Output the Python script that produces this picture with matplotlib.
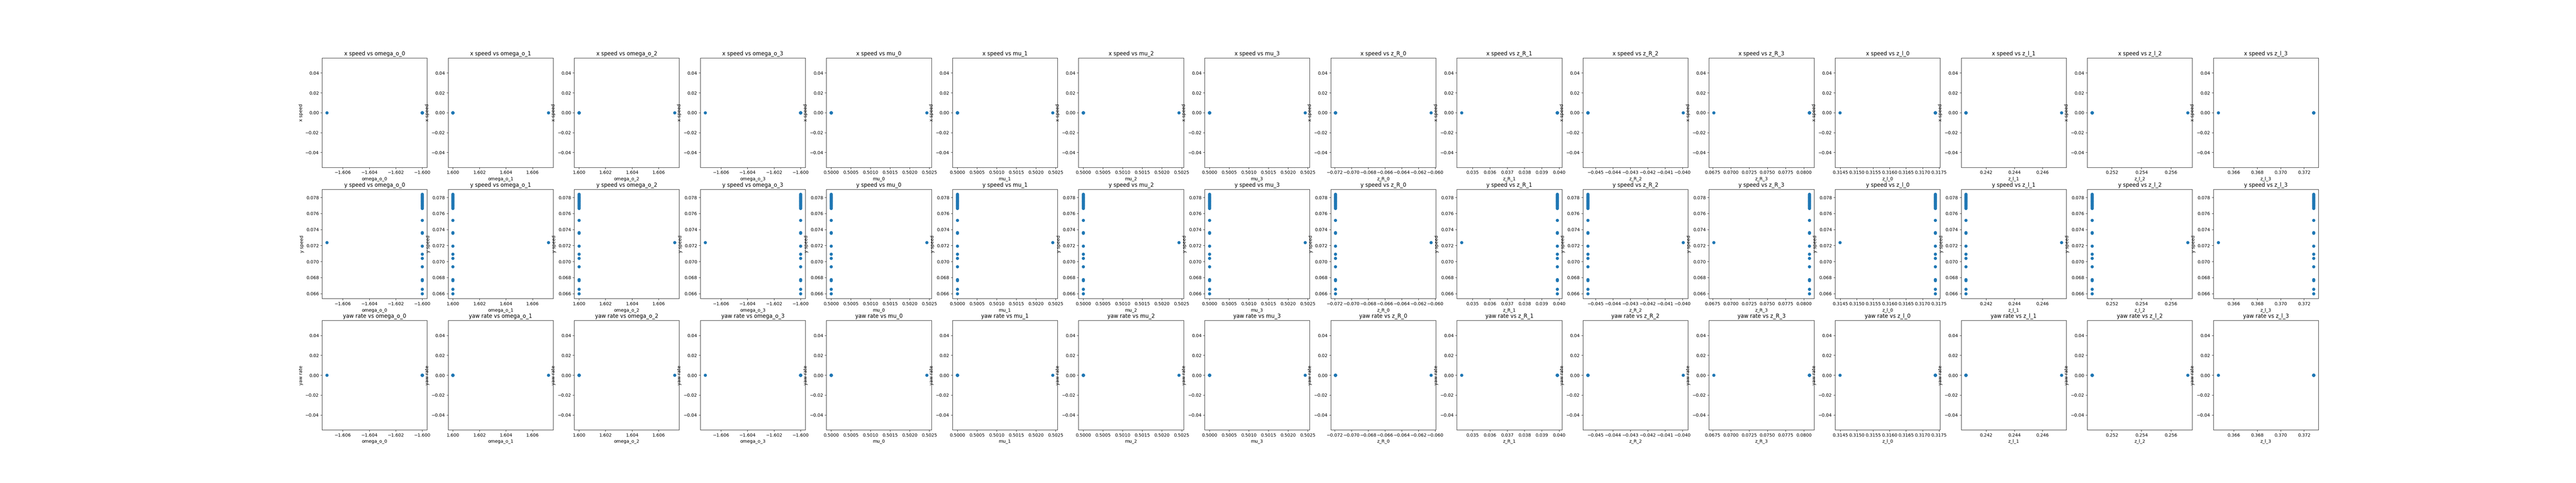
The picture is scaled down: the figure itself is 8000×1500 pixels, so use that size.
import numpy as np
import matplotlib.pyplot as plt

# parameter names (one column each)
param_names = ["omega_o_0", "omega_o_1", "omega_o_2", "omega_o_3",
               "mu_0", "mu_1", "mu_2", "mu_3",
               "z_R_0", "z_R_1", "z_R_2", "z_R_3",
               "z_l_0", "z_l_1", "z_l_2", "z_l_3"]

# value shared by most samples, and value of the one odd sample
param_common = [-1.6000, 1.6000, 1.6000, -1.6000,
                0.5000, 0.5000, 0.5000, 0.5000,
                -0.07190, 0.03988, -0.04546, 0.08074,
                0.31739, 0.24057, 0.25066, 0.37282]
param_odd = [-1.6072, 1.6072, 1.6072, -1.6072,
             0.50243, 0.50243, 0.50243, 0.50243,
             -0.06050, 0.03437, -0.03995, 0.06766,
             0.31449, 0.24734, 0.25712, 0.36467]

# outputs: first entry is the odd sample
y_speed = [0.07236,
           0.07840, 0.07832, 0.07825, 0.07817, 0.07810, 0.07802, 0.07795,
           0.07788, 0.07780, 0.07772, 0.07765, 0.07757, 0.07750, 0.07742,
           0.07735, 0.07727, 0.07720, 0.07712, 0.07705, 0.07697, 0.07690,
           0.07680, 0.07671, 0.07663,
           0.07514, 0.07364, 0.07354, 0.07192, 0.07091, 0.07039, 0.06938,
           0.06777, 0.06764, 0.06656, 0.06599]
n = len(y_speed)
x_speed = [0.0] * n
yaw_rate = [0.0] * n

outputs = [("x speed", x_speed), ("y speed", y_speed), ("yaw rate", yaw_rate)]

fig, axes = plt.subplots(3, len(param_names), figsize=(80, 15), dpi=100)

for j, name in enumerate(param_names):
    xs = [param_odd[j]] + [param_common[j]] * (n - 1)
    for i, (label, ys) in enumerate(outputs):
        ax = axes[i, j]
        ax.scatter(xs, ys)
        ax.set_title(f"{label} vs {name}")
        ax.set_xlabel(name)
        ax.set_ylabel(label)

fig.savefig("out.png", dpi=100)
